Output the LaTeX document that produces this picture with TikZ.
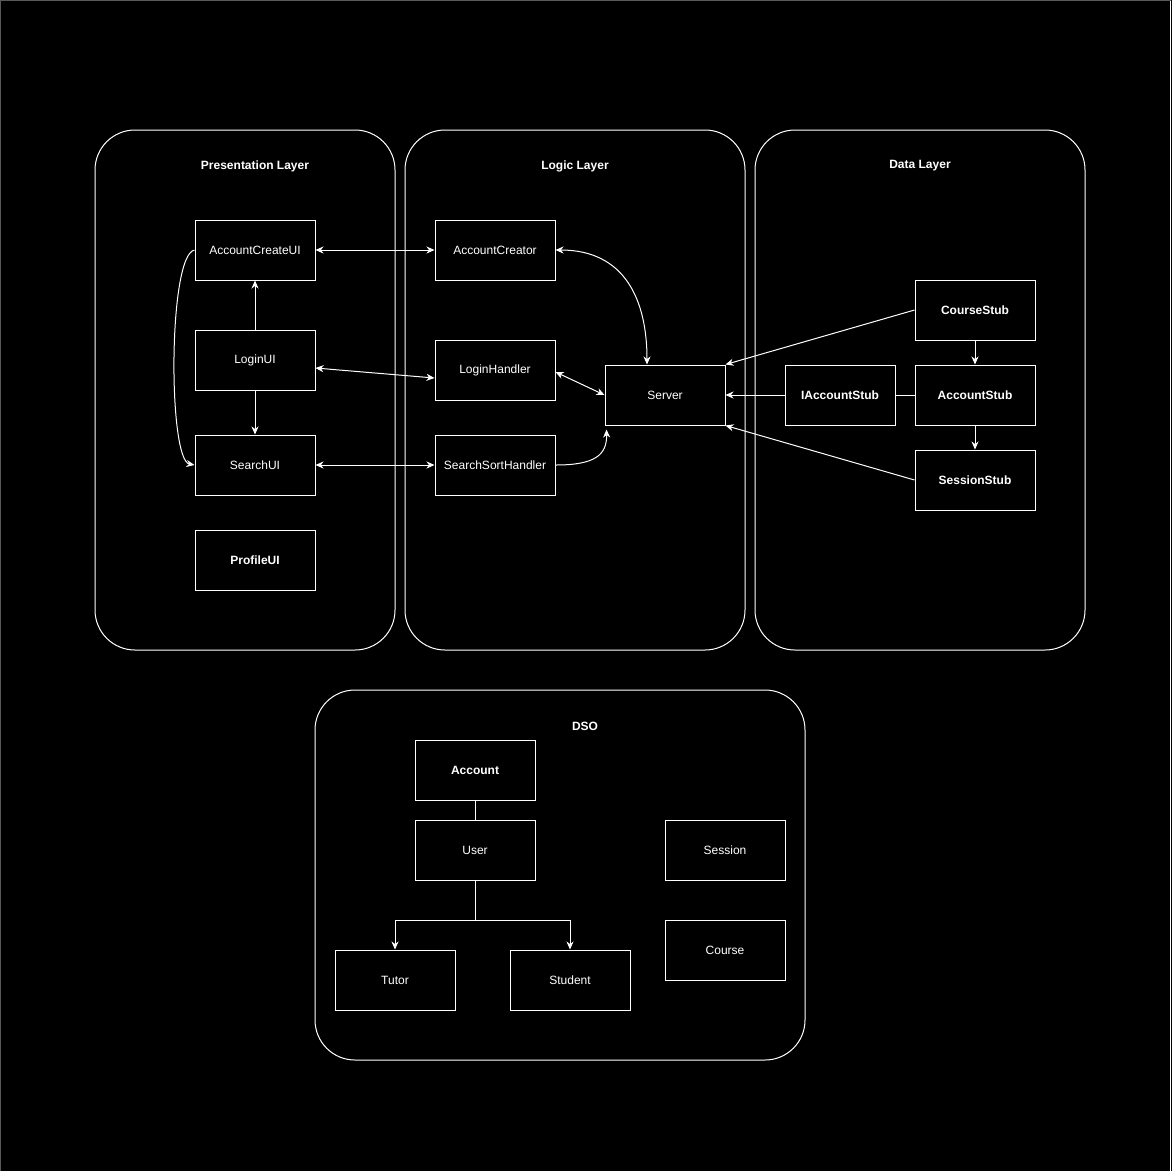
\documentclass[tikz,border=0pt]{standalone}
\usepackage{fontspec}
\setmainfont{Liberation Sans}
\usetikzlibrary{arrows.meta}
\begin{document}
\begin{tikzpicture}[x=1pt,y=-1pt,
  box/.style={draw=white, line width=1pt, minimum width=120pt, minimum height=60pt, inner sep=0pt, text=white, font=\fontsize{12}{14}\selectfont},
  bbox/.style={box, font=\fontsize{12}{14}\selectfont\bfseries},
  layer/.style={draw=white, line width=1pt, rounded corners=40pt, inner sep=0pt},
  title/.style={text=white, font=\fontsize{12}{14}\selectfont\bfseries, inner sep=0pt},
  tip/.style={-{Stealth[length=8pt,width=7pt,inset=2.5pt]}},
  conn/.style={draw=white, line width=1pt},
  arr/.style={conn, tip},
  biarr/.style={conn, {Stealth[length=8pt,width=7pt,inset=2.5pt]}-{Stealth[length=8pt,width=7pt,inset=2.5pt]}}
]
\useasboundingbox (0,0) rectangle (1172,1171);
\fill[black] (0,0) rectangle (1172,1171);
\draw[white!35!black, line width=1pt] (0.5,1171) -- (0.5,0.5) -- (1170.5,0.5);
\draw[white, line width=1.2pt] (1170.5,0.5) -- (1170.5,1171);

% layers
\node[layer, minimum width=300pt, minimum height=520pt] (pres) at (245,390) {};
\node[layer, minimum width=340pt, minimum height=520pt] (logic) at (575,390) {};
\node[layer, minimum width=330pt, minimum height=520pt] (data) at (920,390) {};
\node[layer, minimum width=490pt, minimum height=370pt] (dso) at (560,875) {};

\node[title] (tpres) at (255,166) {Presentation Layer};
\node[title] (tlogic) at (575,166) {Logic Layer};
\node[title] (tdata) at (920,166) {Data Layer};
\node[title] (tdso) at (585,726) {DSO};

% presentation
\node[box] (acui) at (255,250) {AccountCreateUI};
\node[box] (lui) at (255,360) {LoginUI};
\node[box] (sui) at (255,465) {SearchUI};
\node[bbox] (pui) at (255,560) {ProfileUI};

% logic
\node[box] (acr) at (495,250) {AccountCreator};
\node[box] (lh) at (495,370) {LoginHandler};
\node[box] (ssh) at (495,465) {SearchSortHandler};
\node[box] (srv) at (665,395) {Server};

% data
\node[bbox] (cs) at (975,310) {CourseStub};
\node[bbox, minimum width=110pt] (ias) at (840,395) {IAccountStub};
\node[bbox] (as) at (975,395) {AccountStub};
\node[bbox] (ss) at (975,480) {SessionStub};

% dso
\node[bbox] (acc) at (475,770) {Account};
\node[box] (user) at (475,850) {User};
\node[box] (sess) at (725,850) {Session};
\node[box] (course) at (725,950) {Course};
\node[box] (tutor) at (395,980) {Tutor};
\node[box] (stud) at (570,980) {Student};

% connectors
\draw[biarr] (acui.east) -- (acr.west);
\draw[biarr] ([yshift=-8pt]lui.east) -- ([yshift=-8pt]lh.west);
\draw[biarr] (sui.east) -- (ssh.west);
\draw[arr] (lui.north) -- (acui.south);
\draw[arr] (lui.south) -- (sui.north);
\draw[arr] (acui.west) .. controls (168,255) and (168,460) .. (sui.west);

\draw[biarr] (acr.east) .. controls (625,250) and (647,300) .. ([xshift=-18pt]srv.north);
\draw[biarr] ([yshift=-2pt]lh.east) -- (srv.west);
\draw[arr] (ssh.east) .. controls (595,465) and (607,455) .. ([xshift=2pt,yshift=-4pt]srv.south west);

\draw[arr] (cs.west) -- (srv.north east);
\draw[arr] (ias.west) -- (srv.east);
\draw[arr] (ss.west) -- (srv.south east);
\draw[conn] (ias.east) -- (as.west);
\draw[arr] (cs.south) -- (as.north);
\draw[arr] (as.south) -- (ss.north);

\draw[conn] (acc.south) -- (user.north);
\coordinate (split) at (475,920);
\draw[arr] (user.south) -- (split) -| (tutor.north);
\draw[arr] (split) -| (stud.north);
\end{tikzpicture}
\end{document}
